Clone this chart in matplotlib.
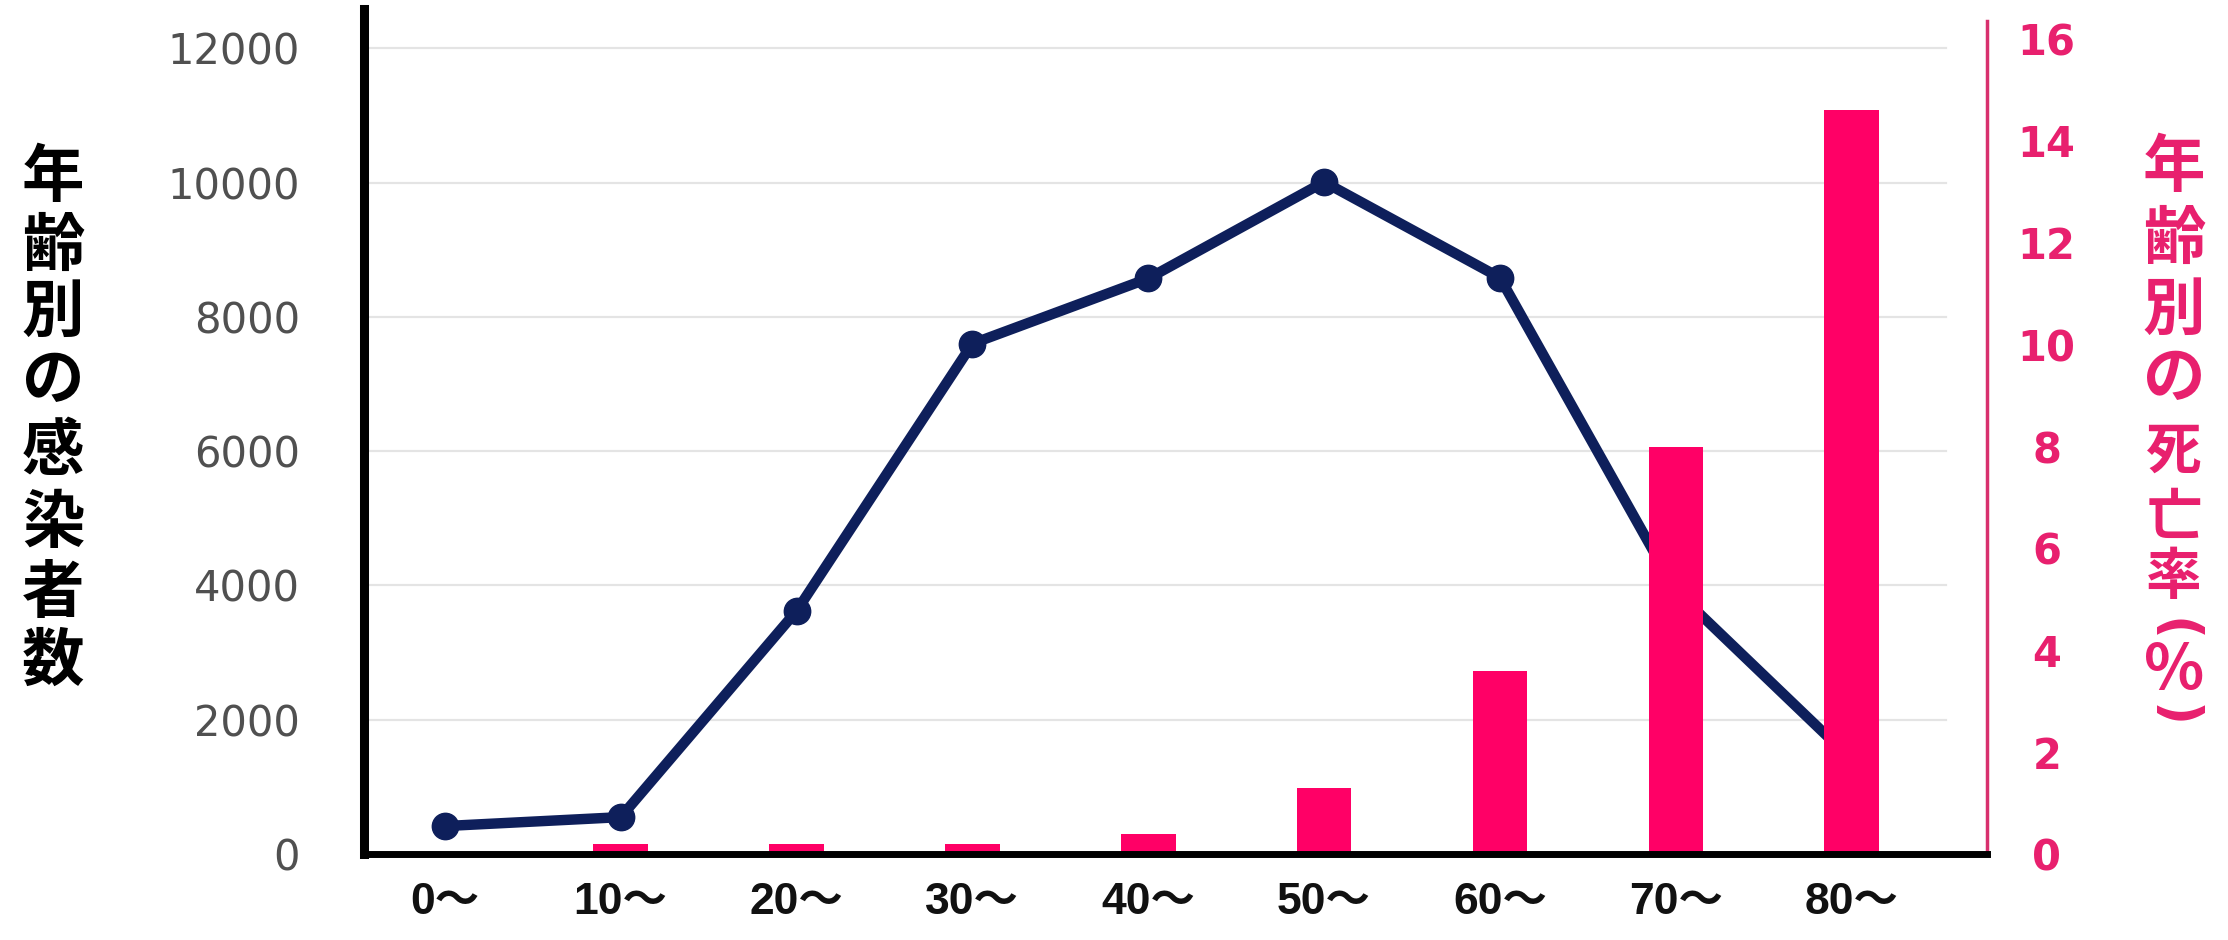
import matplotlib
matplotlib.use('Agg')
import matplotlib.pyplot as plt

# ---- data ----
categories = ['0～', '10～', '20～', '30～', '40～', '50～', '60～', '70～', '80～']
cases = [416, 549, 3619, 7600, 8571, 10008, 8583, 3918, 1408]
death_rate = [0, 0.2, 0.2, 0.2, 0.4, 1.3, 3.6, 8.0, 14.6]
left_ticks = [0, 2000, 4000, 6000, 8000, 10000, 12000]
right_ticks = [0, 2, 4, 6, 8, 10, 12, 14, 16]
left_label = '年齢別の感染者数'
right_label = ['年', '齢', '別', 'の', '死', '亡', '率', '(', '%', ')']

W, H = 2228, 940
NAVY = '#0E1F5B'
PINK = '#FF0066'
PINK_TXT = '#E8206E'
CJK = ['Noto Sans CJK JP', 'DejaVu Sans']

fig = plt.figure(figsize=(W / 100, H / 100), dpi=100)
fig.patch.set_facecolor('white')

ax_l, ax_r, ax_b, ax_t = 364, 1987, 854, 9
ax = fig.add_axes([ax_l / W, 1 - ax_b / H, (ax_r - ax_l) / W, (ax_b - ax_t) / H])
x = list(range(len(categories)))

ax.plot(x, cases, color=NAVY, lw=7.5, marker='o', ms=19, zorder=3,
        solid_joinstyle='round', solid_capstyle='round')
ax.set_xlim(-0.46, 8.77)
ax.set_ylim(0, 12584)
for t in left_ticks[1:]:
    ax.axhline(t, xmin=0, xmax=0.975, color='#E4E4E4', lw=1.6, zorder=0)
ax.set_yticks(left_ticks)
ax.set_yticklabels([str(v) for v in left_ticks], fontsize=30, color='#505050',
                   family='DejaVu Sans')
ax.tick_params(axis='y', length=0, pad=46)
ax.set_xticks(x)
ax.set_xticklabels(categories, fontsize=32, fontweight='bold',
                   family=['Liberation Sans', 'Noto Sans CJK JP'], color='#111111')
ax.tick_params(axis='x', length=0, pad=20)
for s in ['top', 'right', 'bottom']:
    ax.spines[s].set_visible(False)
ax.spines['left'].set_linewidth(6.5)
ax.spines['left'].set_color('black')

ax2 = ax.twinx()
ax2.bar(x, death_rate, width=0.31, color=PINK, zorder=2)
ax2.set_ylim(0, 16.59)
ax2.set_yticks(right_ticks)
ax2.set_yticklabels([str(v) for v in right_ticks], fontsize=30, fontweight='bold',
                    color=PINK_TXT, family='DejaVu Sans')
for lab in ax2.get_yticklabels():
    lab.set_horizontalalignment('center')
ax2.tick_params(axis='y', length=0, pad=43)
ax2.spines['top'].set_visible(False)
ax2.spines['left'].set_visible(False)
ax2.spines['right'].set_color('#D8306E')
ax2.spines['right'].set_linewidth(2.5)
ax2.spines['right'].set_bounds(0, 16.35)
ax2.spines['bottom'].set_color('black')
ax2.spines['bottom'].set_linewidth(5)
ax2.spines['bottom'].set_zorder(5)

# vertical stacked axis titles
left_y = [178, 246, 312, 381, 452, 523, 594, 661]
for ch, yc in zip(left_label, left_y):
    fig.text(53 / W, 1 - yc / H, ch, ha='center', va='center', fontsize=45,
             fontweight='bold', family=CJK, color='black')

right_y = [168, 239, 310, 378, 452, 519, 578, 630, 670, 716]
right_rot = [0, 0, 0, 0, 0, 0, 0, -90, 0, -90]
right_size = [45, 45, 45, 45, 40, 40, 40, 38, 45, 38]
right_fam = [CJK] * 7 + ['DejaVu Sans', CJK, 'DejaVu Sans']
for ch, yc, rot, fs, fam in zip(right_label, right_y, right_rot, right_size, right_fam):
    fig.text(2174 / W, 1 - yc / H, ch, ha='center', va='center', fontsize=fs,
             fontweight='bold', family=fam, color=PINK_TXT, rotation=rot)

fig.savefig('out.png', dpi=100, facecolor='white')
